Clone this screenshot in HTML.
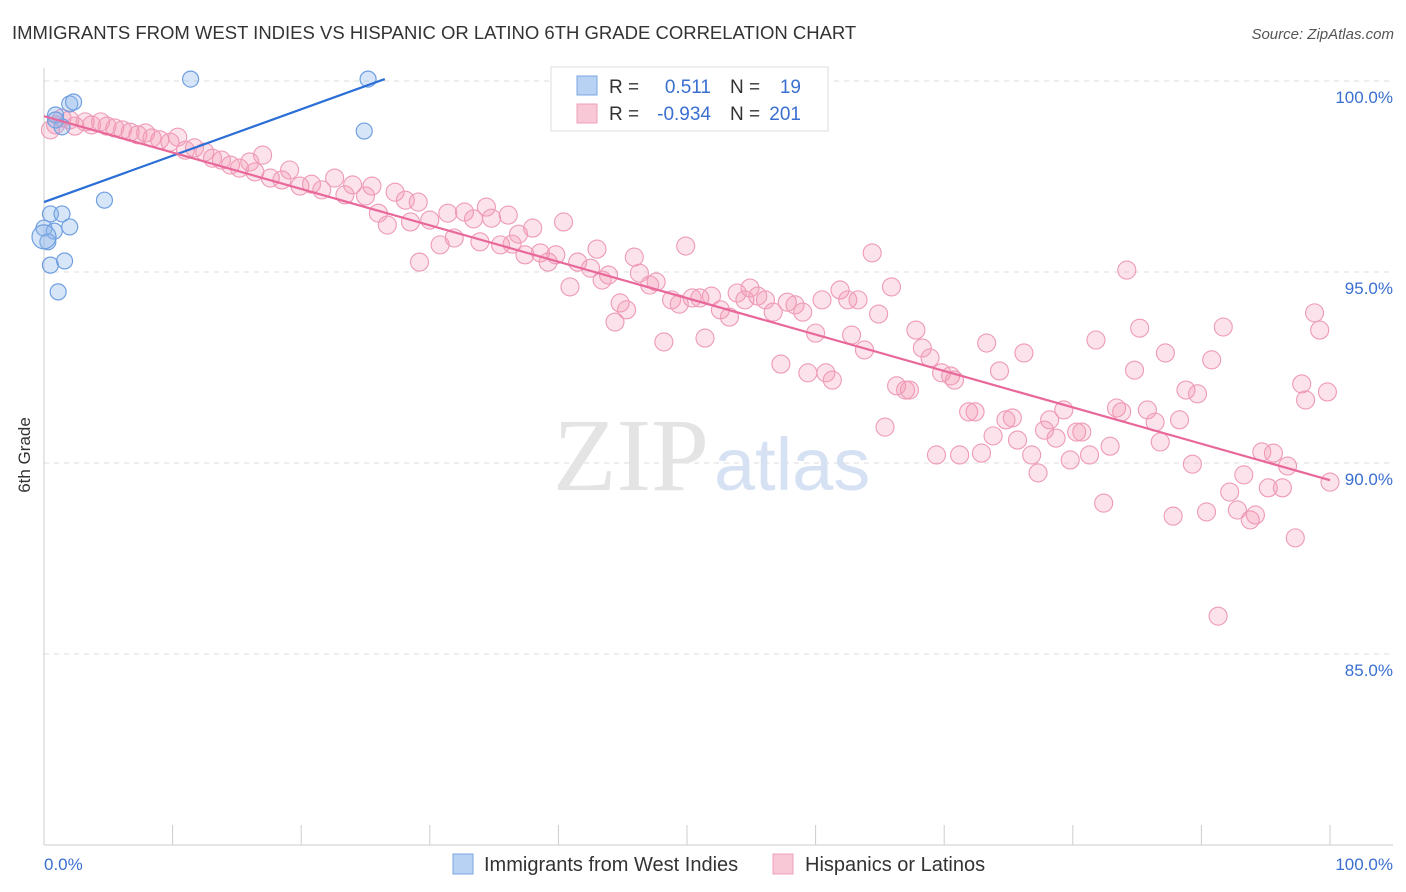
<!DOCTYPE html>
<html><head><meta charset="utf-8"><style>
body{margin:0;background:#fff;font-family:"Liberation Sans",sans-serif;}
svg{display:block}
</style></head><body>
<svg id="chart" width="1406" height="892" xmlns="http://www.w3.org/2000/svg">
<text x="12" y="39" font-size="18.5" fill="#333">IMMIGRANTS FROM WEST INDIES VS HISPANIC OR LATINO 6TH GRADE CORRELATION CHART</text>
<text x="1394" y="39" font-size="15" fill="#555" font-style="italic" text-anchor="end">Source: ZipAtlas.com</text>
<g id="grid"></g>
<g id="axes">
<line x1="44" y1="68" x2="44" y2="845" stroke="#ccc"/>
<line x1="44" y1="845" x2="1393" y2="845" stroke="#ccc"/>
</g>
<text x="30" y="455" font-size="17" fill="#333" text-anchor="middle" transform="rotate(-90 30 455)">6th Grade</text>
<text x="44" y="870" font-size="17" fill="#3a6fd0">0.0%</text>
<text x="1393" y="870" font-size="17" fill="#3a6fd0" text-anchor="end">100.0%</text>
<g>
<text x="553" y="490" font-size="104" fill="#e4e4e4" font-family="Liberation Serif,serif">ZIP</text>
<text x="714" y="490" font-size="74" fill="#d6e2f4">atlas</text>
</g>
<g id="pts"></g>
<g id="trends"></g>
<g>
<rect x="551" y="67" width="277" height="64" fill="#fff" stroke="#ddd"/>
<rect x="577" y="76" width="20" height="19" fill="#b8d2f4" stroke="#7aa6e2"/>
<rect x="577" y="104" width="20" height="19" fill="#f9c8d6" stroke="#eea0ba"/>
<text x="609" y="93" font-size="19" fill="#333">R =</text>
<text x="711" y="93" font-size="19" fill="#3a6fd0" text-anchor="end">0.511</text>
<text x="730" y="93" font-size="19" fill="#333">N =</text>
<text x="801" y="93" font-size="19" fill="#3a6fd0" text-anchor="end">19</text>
<text x="609" y="120" font-size="19" fill="#333">R =</text>
<text x="711" y="120" font-size="19" fill="#3a6fd0" text-anchor="end">-0.934</text>
<text x="730" y="120" font-size="19" fill="#333">N =</text>
<text x="801" y="120" font-size="19" fill="#3a6fd0" text-anchor="end">201</text>
</g>
<g>
<rect x="453" y="854" width="20" height="20" fill="#b8d2f4" stroke="#7aa6e2"/>
<text x="484" y="871" font-size="20" fill="#333">Immigrants from West Indies</text>
<rect x="773" y="854" width="20" height="20" fill="#f9c8d6" stroke="#eea0ba"/>
<text x="805" y="871" font-size="20" fill="#333">Hispanics or Latinos</text>
</g>
</svg>
<script>
const yTicks=[100,95,90,85];
const yTickLabels=["100.0%","95.0%","90.0%","85.0%"];
const xTicks=[0,10,20,30,40,50,60,70,80,90,100];
const blueX=[0.9,2.0,2.3,1.4,11.4,25.2,24.9,4.7,0.5,1.4,0.0,0.8,2.0,0.3,0.5,1.6,1.1,0,0.9];
const blueY=[99.11,99.40,99.45,98.80,100.05,100.05,98.69,96.88,96.52,96.52,96.15,96.07,96.18,95.79,95.18,95.29,94.48,95.92,98.98];
const pinkX=[0.5,0.9,1.4,2.0,2.4,3.2,3.7,4.4,4.9,5.5,6.1,6.7,7.3,7.9,8.4,9.0,9.8,10.4,11.0,11.7,12.5,13.1,13.8,14.5,15.2,16.0,16.4,17.0,17.6,18.5,19.1,19.9,20.8,21.6,22.6,23.4,24.0,25.0,25.5,26.0,26.7,27.3,28.1,28.5,29.1,29.2,30.0,30.8,31.4,31.9,32.7,33.4,33.9,34.4,34.8,35.5,36.1,36.4,36.9,37.4,38.0,38.6,39.2,39.8,40.4,40.9,41.5,42.5,43.0,43.4,43.9,44.4,44.8,45.3,45.9,46.3,47.1,47.6,48.2,48.8,49.4,49.9,50.4,51.0,51.4,51.9,52.6,53.3,53.9,54.5,54.9,55.5,56.1,56.7,57.3,57.8,58.4,59.0,59.4,60.0,60.5,60.8,61.3,61.9,62.5,62.8,63.3,63.8,64.4,64.9,65.4,65.9,66.3,67.0,67.3,67.8,68.3,68.9,69.4,69.8,70.5,70.8,71.2,71.9,72.4,72.9,73.3,73.8,74.3,74.8,75.3,75.7,76.2,76.8,77.3,77.8,78.2,78.7,79.3,79.8,80.3,80.7,81.3,81.8,82.4,82.9,83.4,83.8,84.2,84.8,85.2,85.8,86.4,86.8,87.2,87.8,88.3,88.8,89.3,89.7,90.4,90.8,91.3,91.7,92.2,92.8,93.3,93.8,94.2,94.7,95.2,95.6,96.3,96.7,97.3,97.8,98.1,98.8,99.2,99.8,100];
const pinkY=[98.72,98.85,99.03,98.98,98.82,98.93,98.85,98.93,98.82,98.77,98.72,98.66,98.59,98.64,98.51,98.46,98.40,98.53,98.19,98.25,98.14,97.98,97.93,97.80,97.72,97.88,97.62,98.06,97.46,97.41,97.67,97.25,97.30,97.15,97.46,97.02,97.28,96.99,97.25,96.54,96.23,97.09,96.88,96.31,96.83,95.26,96.36,95.71,96.54,95.89,96.57,96.39,95.79,96.70,96.41,95.71,96.49,95.73,95.99,95.45,96.15,95.50,95.26,95.45,96.31,94.61,95.26,95.10,95.60,94.79,94.92,93.69,94.19,94.01,95.39,94.97,94.66,94.74,93.17,94.27,94.16,95.68,94.32,94.32,93.27,94.37,94.01,93.82,94.45,94.27,94.58,94.37,94.27,93.95,92.59,94.21,94.14,93.95,92.36,93.40,94.27,92.36,92.17,94.53,94.27,93.35,94.27,92.96,95.50,93.90,90.94,94.61,92.02,91.91,91.91,93.48,93.01,92.75,90.21,92.36,92.28,92.17,90.21,91.34,91.34,90.26,93.14,90.71,92.41,91.13,91.18,90.60,92.88,90.21,89.74,90.86,91.13,90.65,91.39,90.08,90.81,90.81,90.21,93.22,88.95,90.44,91.44,91.34,95.05,92.43,93.53,91.39,91.07,90.55,92.88,88.61,91.13,91.91,89.97,91.81,88.72,92.70,85.99,93.56,89.24,88.77,89.69,88.51,88.64,90.29,89.35,90.26,89.35,89.92,88.04,92.07,91.65,93.93,93.48,91.86,89.50];
const blueTrend=[[0,96.83],[26.5,100.05]];
const pinkTrend=[[0,99.08],[100,89.55]];
const X=p=>44+p*12.86, Y=v=>81+(100-v)*38.2;
const NS="http://www.w3.org/2000/svg";
const grid=document.getElementById('grid'), axes=document.getElementById('axes');
function mk(t,a,parent){const e=document.createElementNS(NS,t);for(const k in a)e.setAttribute(k,a[k]);parent.appendChild(e);return e;}
yTicks.forEach((v,i)=>{
 const l=mk('line',{x1:44,x2:1393,y1:Y(v),y2:Y(v),stroke:'#ddd','stroke-dasharray':'5,5'},grid);
 
 
 const t=mk('text',{x:1393,y:Y(v)+22,'font-size':17,fill:'#3a6fd0','text-anchor':'end'},grid);
 t.textContent=yTickLabels[i];
 
 
});
xTicks.forEach(p=>{
 const l=mk('line',{x1:X(p),x2:X(p),y1:825,y2:845,stroke:'#ccc'},axes);
 
 
});
const pts=document.getElementById('pts');
pinkX.forEach((p,i)=>{
 const c=mk('circle',{cx:X(p),cy:Y(pinkY[i]),r:9,fill:'rgba(244,150,180,0.28)',stroke:'#ee9ab6','stroke-width':1.1},pts);
 
 
});
blueX.forEach((p,i)=>{
 const c=mk('circle',{cx:X(p),cy:Y(blueY[i]),r:i==17?12:8,fill:'rgba(140,180,235,0.35)',stroke:'#6f9fe0','stroke-width':1.2},pts);
 
 
});
const tr=document.getElementById('trends');
const b=mk('line',{x1:X(blueTrend[0][0]),y1:Y(blueTrend[0][1]),x2:X(blueTrend[1][0]),y2:Y(blueTrend[1][1]),stroke:'#2b6fd6','stroke-width':2.2},tr);


const pk=mk('line',{x1:X(pinkTrend[0][0]),y1:Y(pinkTrend[0][1]),x2:X(pinkTrend[1][0]),y2:Y(pinkTrend[1][1]),stroke:'#e8689a','stroke-width':2.2},tr);


</script>
</body></html>
